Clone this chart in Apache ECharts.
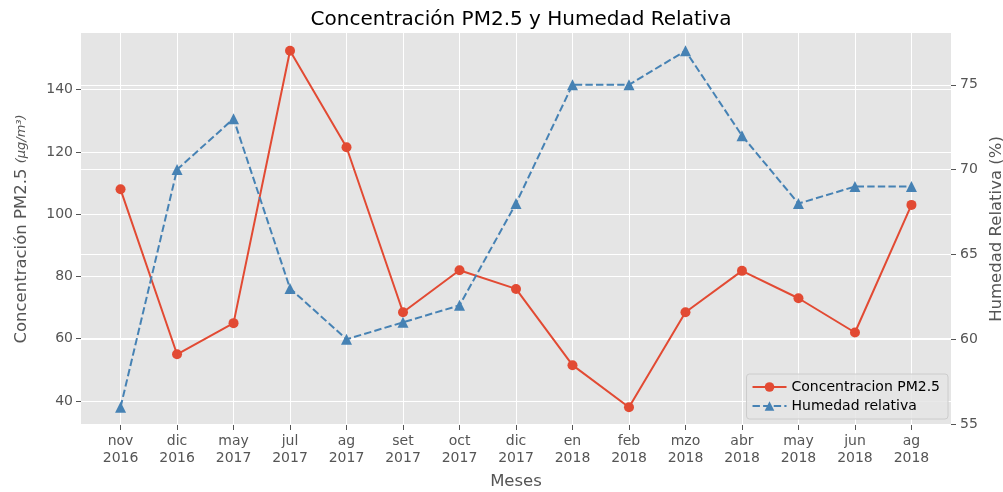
<!DOCTYPE html>
<html>
<head>
<meta charset="utf-8">
<script src="https://cdn.jsdelivr.net/npm/echarts@6/dist/echarts.min.js"></script>
<style>
html,body{margin:0;padding:0;background:#fff;}
#c{width:1003px;height:492px;}
</style>
</head>
<body>
<div id="c"></div>
<script>
const months = ['nov','dic','may','jul','ag','set','oct','dic','en','feb','mzo','abr','may','jun','ag'];
const years = ['2016','2016','2017','2017','2017','2017','2017','2017','2018','2018','2018','2018','2018','2018','2018'];
const pm25 = [108, 55, 65, 152.5, 121.5, 68.5, 82, 76, 51.5, 38, 68.5, 81.8, 73, 62, 103];
const humidity = [56, 70, 73, 63, 60, 61, 62, 68, 75, 75, 77, 72, 68, 69, 69];
const leftTicks = [40, 60, 80, 100, 120, 140];
const rightTicks = [55, 60, 65, 70, 75];

const idx = months.map((_, i) => i);
const pmData = pm25.map((v, i) => [i, v]);
const humData = humidity.map((v, i) => [i, v]);

function pad(min, max) { const r = max - min; return [min - 0.05 * r, max + 0.05 * r]; }
const xr = pad(0, months.length - 1);
const lr = pad(Math.min(...pm25), Math.max(...pm25));
const rr = pad(Math.min(...humidity), Math.max(...humidity));

const font = 'DejaVu Sans';
const chart = echarts.init(document.getElementById('c'), null, {renderer: 'canvas'});
chart.setOption({
  backgroundColor: '#ffffff',
  animation: false,
  textStyle: {fontFamily: font},
  title: {
    text: 'Concentración PM2.5 y Humedad Relativa',
    left: 516, top: 5, textAlign: 'center',
    textStyle: {fontFamily: font, fontSize: 20, fontWeight: 'normal', color: '#000'}
  },
  grid: {left: 81, right: 52, top: 33, bottom: 67, show: true, backgroundColor: '#e5e5e5', borderWidth: 0,
    containLabel: false, outerBoundsMode: 'none'},
  legend: {
    right: 55, bottom: 73,
    orient: 'vertical',
    backgroundColor: 'rgba(229,229,229,0.85)',
    borderColor: '#cccccc', borderWidth: 1, borderRadius: 3,
    padding: [6, 8, 6, 5],
    itemGap: 5, itemWidth: 34, itemHeight: 12,
    textStyle: {fontFamily: font, fontSize: 14, color: '#000'},
    data: ['Concentracion PM2.5', 'Humedad relativa']
  },
  xAxis: {
    type: 'value', min: xr[0], max: xr[1],
    name: 'Meses', nameLocation: 'middle', nameGap: 48,
    nameTextStyle: {fontFamily: font, fontSize: 16.5, color: '#555'},
    axisLine: {show: false, onZero: false},
    axisTick: {show: true, length: 5, lineStyle: {color: '#555', width: 1}, customValues: idx},
    axisLabel: {
      customValues: idx, color: '#555', fontFamily: font, fontSize: 14, lineHeight: 17, margin: 8,
      formatter: v => months[Math.round(v)] + '\n' + years[Math.round(v)]
    },
    splitLine: {show: true, lineStyle: {color: '#ffffff', width: 1}}
  },
  yAxis: [
    {
      type: 'value', min: lr[0], max: lr[1], position: 'left',
      name: '{a|Concentración PM2.5 }{b|(μg/m³)}', nameLocation: 'middle', nameGap: 51,
      nameTextStyle: {fontFamily: font, fontSize: 16.5, color: '#555',
        rich: {a: {fontFamily: font, fontSize: 16.5, color: '#555'}, b: {fontFamily: font, fontSize: 13, fontStyle: 'italic', color: '#555'}}},
      axisLine: {show: false, onZero: false},
      axisTick: {show: true, length: 5, lineStyle: {color: '#555'}, customValues: leftTicks},
      axisLabel: {customValues: leftTicks, color: '#555', fontFamily: font, fontSize: 14, margin: 8},
      splitLine: {show: true, lineStyle: {color: '#ffffff', width: 1}}
    },
    {
      type: 'value', min: rr[0], max: rr[1], position: 'right',
      name: 'Humedad Relativa (%)', nameLocation: 'middle', nameGap: 34, nameRotate: 90,
      nameTextStyle: {fontFamily: font, fontSize: 16.5, color: '#555'},
      axisLine: {show: false, onZero: false},
      axisTick: {show: true, length: 5, lineStyle: {color: '#555'}, customValues: rightTicks},
      axisLabel: {customValues: rightTicks, color: '#555', fontFamily: font, fontSize: 14, margin: 9},
      splitLine: {show: true, lineStyle: {color: '#ffffff', width: 1}}
    }
  ],
  series: [
    {
      name: 'Concentracion PM2.5', type: 'line', yAxisIndex: 0, data: pmData,
      symbol: 'circle', symbolSize: 10,
      itemStyle: {color: '#E24A33'},
      lineStyle: {color: '#E24A33', width: 2},
      z: 3
    },
    {
      name: 'Humedad relativa', type: 'line', yAxisIndex: 1, data: humData,
      symbol: 'triangle', symbolSize: 11,
      itemStyle: {color: '#4682B4'},
      lineStyle: {color: '#4682B4', width: 2, type: [7.4, 3.2]},
      z: 4
    }
  ]
});
</script>
</body>
</html>
